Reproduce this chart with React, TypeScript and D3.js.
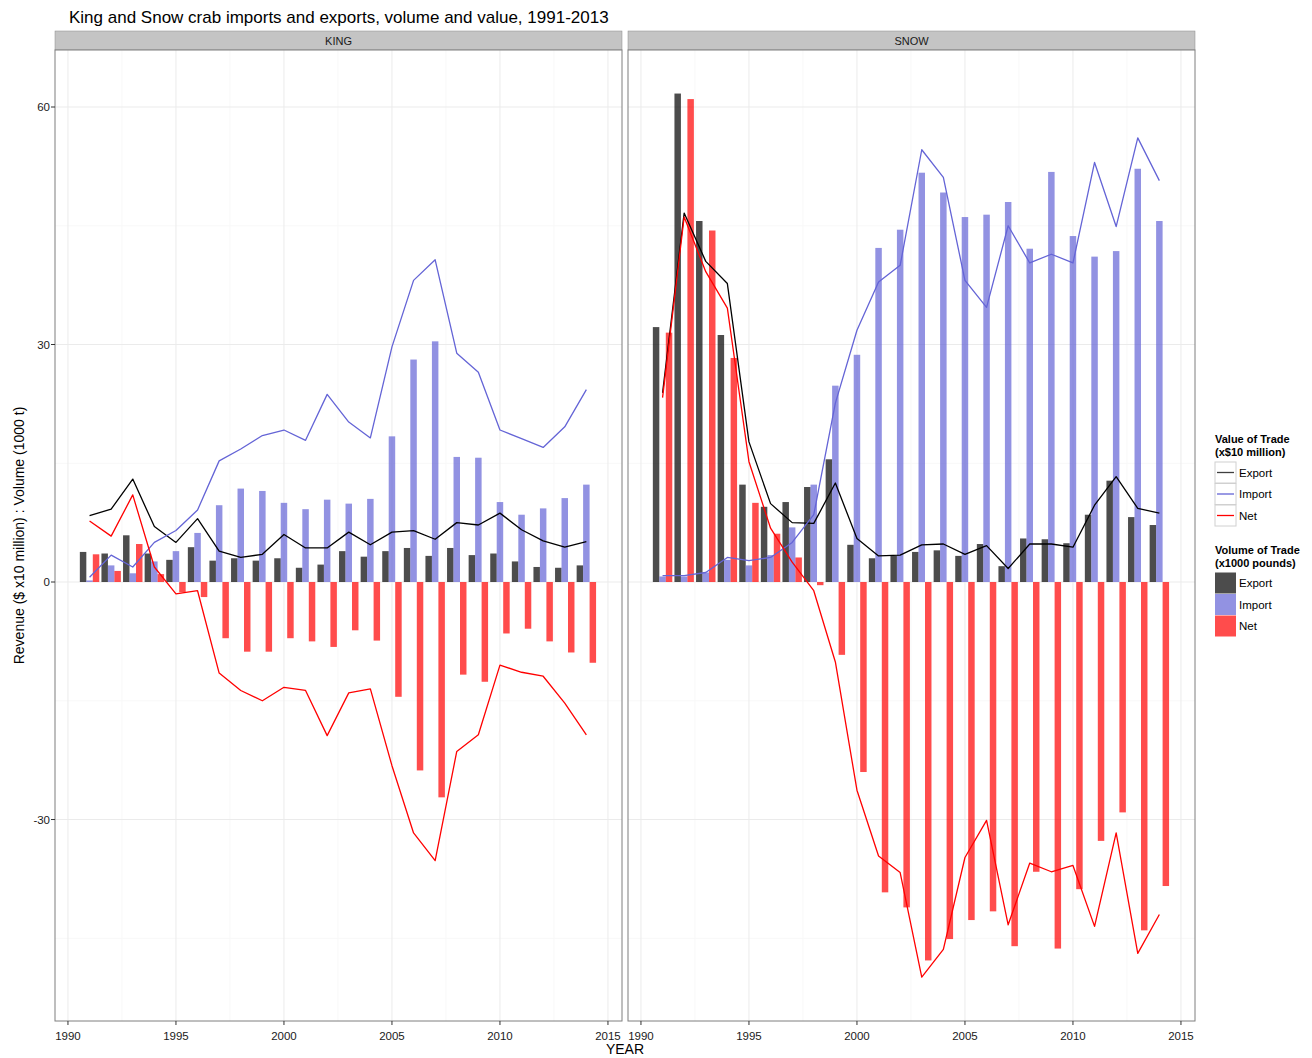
import React from "react";
import * as d3 from "d3";

const years = [1991,1992,1993,1994,1995,1996,1997,1998,1999,2000,2001,2002,2003,2004,2005,2006,2007,2008,2009,2010,2011,2012,2013,2014];
const xTicks = [1990, 1995, 2000, 2005, 2010, 2015];
const yTicks = [-30, 0, 30, 60];
const seriesNames = ["Export", "Import", "Net"];
const panelNames = ["KING", "SNOW"];

// KING volume (x1000 pounds)
const kingExportVol = [3.8,3.6,5.9,3.6,2.8,4.4,2.7,3.0,2.7,3.0,1.8,2.2,3.9,3.2,3.9,4.3,3.3,4.3,3.4,3.6,2.6,1.9,1.8,2.1];
const kingImportVol = [0.2,2.1,1.1,2.6,3.9,6.2,9.7,11.8,11.5,10.0,9.2,10.4,9.9,10.5,18.4,28.1,30.4,15.8,15.7,10.1,8.5,9.3,10.6,12.3];
const kingNetVol = [3.5,1.4,4.8,1.0,-1.3,-1.9,-7.1,-8.8,-8.8,-7.1,-7.5,-8.2,-6.1,-7.4,-14.5,-23.8,-27.2,-11.7,-12.6,-6.5,-5.9,-7.5,-8.9,-10.2];
// KING value (x$10 million)
const kingExportVal = [8.4,9.2,13.0,7.0,5.0,8.0,3.9,3.1,3.5,6.0,4.3,4.3,6.3,4.7,6.3,6.5,5.4,7.5,7.2,8.7,6.6,5.2,4.4,5.1];
const kingImportVal = [0.6,3.4,1.9,5.0,6.5,9.1,15.3,16.8,18.5,19.2,17.9,23.7,20.2,18.2,29.7,38.1,40.7,28.9,26.5,19.2,18.1,17.0,19.6,24.3];
const kingNetVal = [7.7,5.8,11.0,1.9,-1.5,-1.1,-11.5,-13.7,-15.0,-13.3,-13.7,-19.4,-14.0,-13.5,-23.2,-31.7,-35.2,-21.4,-19.3,-10.5,-11.4,-11.9,-15.3,-19.3];

// SNOW volume
const snowExportVol = [32.2,61.7,45.6,31.2,12.3,9.5,10.1,12.0,15.5,4.7,3.0,3.3,3.8,4.0,3.3,4.8,2.0,5.5,5.4,4.9,8.5,12.8,8.2,7.2];
const snowImportVol = [0.7,0.7,1.2,2.8,2.1,3.4,6.9,12.3,24.8,28.7,42.2,44.5,51.7,49.2,46.1,46.4,48.0,42.1,51.8,43.7,41.1,41.8,52.2,45.6];
const snowNetVol = [31.5,61.0,44.4,28.3,10.0,6.1,3.1,-0.4,-9.2,-24.0,-39.2,-41.1,-47.8,-45.1,-42.7,-41.6,-46.0,-36.6,-46.3,-38.8,-32.7,-29.1,-44.0,-38.4];
// SNOW value
const snowExportVal = [23.9,46.6,40.5,37.7,17.7,9.9,7.5,7.4,12.5,5.5,3.3,3.4,4.7,4.8,3.5,4.6,1.7,4.8,4.8,4.4,9.7,13.3,9.3,8.7];
const snowImportVal = [0.8,0.8,1.2,3.1,2.7,3.1,5.0,8.5,22.6,31.8,37.9,40.0,54.6,51.1,38.1,34.7,45.0,40.3,41.4,40.3,53.0,44.9,56.1,50.7];
const snowNetVal = [23.3,46.1,39.2,34.6,15.2,6.8,2.5,-1.1,-10.1,-26.3,-34.6,-36.7,-49.9,-46.4,-34.8,-30.1,-43.3,-35.5,-36.6,-35.8,-43.5,-31.7,-46.9,-42.0];

const panels = [
  { name: panelNames[0], vol: [kingExportVol, kingImportVol, kingNetVol], val: [kingExportVal, kingImportVal, kingNetVal] },
  { name: panelNames[1], vol: [snowExportVol, snowImportVol, snowNetVol], val: [snowExportVal, snowImportVal, snowNetVal] },
];

const lineColors = ["#000000", "#6464d6", "#ff0000"];
const barColors = ["#000000", "#6464d6", "#ff0000"];
const barAlpha = 0.7;

const FONT = "'Liberation Sans', Arial, Helvetica, sans-serif";

const PANEL_TOP = 50;
const PANEL_BOTTOM = 1021;
const PANEL_W = 567;
const PANEL_X = [55, 628];
const STRIP_TOP = 31;

export default function App() {
  const x = d3.scaleLinear().domain([1989.4, 2015.65]).range([0, PANEL_W]);
  const y = d3.scaleLinear().domain([-55.45, 67.2]).range([PANEL_BOTTOM, PANEL_TOP]);
  const minorX = [1992.5, 1997.5, 2002.5, 2007.5, 2012.5];
  const minorY = [-45, -15, 15, 45];
  const offsets = [-0.3, 0, 0.3];
  const bw = 0.3;

  const line = (vals: number[]) =>
    d3.line<number>()
      .x((_, i) => x(years[i]))
      .y((d) => y(d))(vals) || "";

  return (
    <svg width={1312} height={1058} style={{ position: "absolute", left: 0, top: 0, background: "#fff" }} fontFamily={FONT}>
      <rect x={0} y={0} width={1312} height={1058} fill="#fff" />
      <text x={69} y={23} fontSize={17} fill="#000">King and Snow crab imports and exports, volume and value, 1991-2013</text>

      {panels.map((p, pi) => {
        const ox = PANEL_X[pi];
        return (
          <g key={p.name} transform={`translate(${ox},0)`}>
            <rect x={0} y={STRIP_TOP} width={PANEL_W} height={PANEL_TOP - STRIP_TOP} fill="#c4c4c4" stroke="#8a8a8a" strokeWidth={0.5} />
            <text x={PANEL_W / 2} y={45} textAnchor="middle" fontSize={11} fill="#1a1a1a">{p.name}</text>
            <rect x={0} y={PANEL_TOP} width={PANEL_W} height={PANEL_BOTTOM - PANEL_TOP} fill="#fff" />
            {minorX.map((v) => (
              <line key={"mx" + v} x1={x(v)} x2={x(v)} y1={PANEL_TOP} y2={PANEL_BOTTOM} stroke="#f8f8f8" strokeWidth={1} />
            ))}
            {minorY.map((v) => (
              <line key={"my" + v} x1={0} x2={PANEL_W} y1={y(v)} y2={y(v)} stroke="#f8f8f8" strokeWidth={1} />
            ))}
            {xTicks.map((v) => (
              <line key={"gx" + v} x1={x(v)} x2={x(v)} y1={PANEL_TOP} y2={PANEL_BOTTOM} stroke="#ebebeb" strokeWidth={1} />
            ))}
            {yTicks.map((v) => (
              <line key={"gy" + v} x1={0} x2={PANEL_W} y1={y(v)} y2={y(v)} stroke="#ebebeb" strokeWidth={1} />
            ))}
            {p.vol.map((series, si) =>
              series.map((v, i) => {
                const x0 = x(years[i] + offsets[si] - bw / 2);
                const x1 = x(years[i] + offsets[si] + bw / 2);
                const y0 = y(Math.max(0, v));
                const y1 = y(Math.min(0, v));
                return (
                  <rect key={`b${si}-${i}`} x={x0} y={y0} width={x1 - x0} height={Math.max(0, y1 - y0)}
                    fill={barColors[si]} fillOpacity={barAlpha} />
                );
              })
            )}
            {p.val.map((series, si) => (
              <path key={"l" + si} d={line(series)} fill="none" stroke={lineColors[si]} strokeWidth={1.3} strokeLinejoin="round" />
            ))}
            <rect x={0} y={PANEL_TOP} width={PANEL_W} height={PANEL_BOTTOM - PANEL_TOP} fill="none" stroke="#7f7f7f" strokeWidth={1} />
            {xTicks.map((v) => (
              <g key={"xt" + v}>
                <line x1={x(v)} x2={x(v)} y1={PANEL_BOTTOM} y2={PANEL_BOTTOM + 4} stroke="#333" strokeWidth={1} />
                <text x={x(v)} y={1040} textAnchor="middle" fontSize={11.5} fill="#1a1a1a">{v}</text>
              </g>
            ))}
            {pi === 0 && yTicks.map((v) => (
              <g key={"yt" + v}>
                <line x1={-4} x2={0} y1={y(v)} y2={y(v)} stroke="#333" strokeWidth={1} />
                <text x={-5} y={y(v) + 4} textAnchor="end" fontSize={11.5} fill="#1a1a1a">{v}</text>
              </g>
            ))}
          </g>
        );
      })}

      <text x={625} y={1054} textAnchor="middle" fontSize={14} fill="#000">YEAR</text>
      <text transform={`translate(24,${(PANEL_TOP + PANEL_BOTTOM) / 2}) rotate(-90)`} textAnchor="middle" fontSize={14} fill="#000">
        Revenue ($ x10 million) : Volume (1000 t)
      </text>

      <g transform="translate(1215,0)">
        <text x={0} y={443} fontSize={11} fontWeight="bold" fill="#000">Value of Trade</text>
        <text x={0} y={456} fontSize={11} fontWeight="bold" fill="#000">(x$10 million)</text>
        {seriesNames.map((s, i) => {
          const top = 462 + i * 21.5;
          return (
            <g key={"lv" + s}>
              <rect x={0} y={top} width={21} height={21} fill="#fff" stroke="#d0d0d0" strokeWidth={1} />
              <line x1={2} x2={19} y1={top + 10.5} y2={top + 10.5} stroke={lineColors[i]} strokeWidth={1.3} opacity={i === 0 ? 0.75 : 1} />
              <text x={24} y={top + 14.5} fontSize={11.5} fill="#000">{s}</text>
            </g>
          );
        })}
        <text x={0} y={554} fontSize={11} fontWeight="bold" fill="#000">Volume of Trade</text>
        <text x={0} y={567} fontSize={11} fontWeight="bold" fill="#000">(x1000 pounds)</text>
        {seriesNames.map((s, i) => {
          const top = 572.5 + i * 21.5;
          return (
            <g key={"lb" + s}>
              <rect x={0} y={top} width={21} height={21} fill="#fff" />
              <rect x={0} y={top} width={21} height={21} fill={barColors[i]} fillOpacity={barAlpha} />
              <text x={24} y={top + 14.5} fontSize={11.5} fill="#000">{s}</text>
            </g>
          );
        })}
      </g>
    </svg>
  );
}
